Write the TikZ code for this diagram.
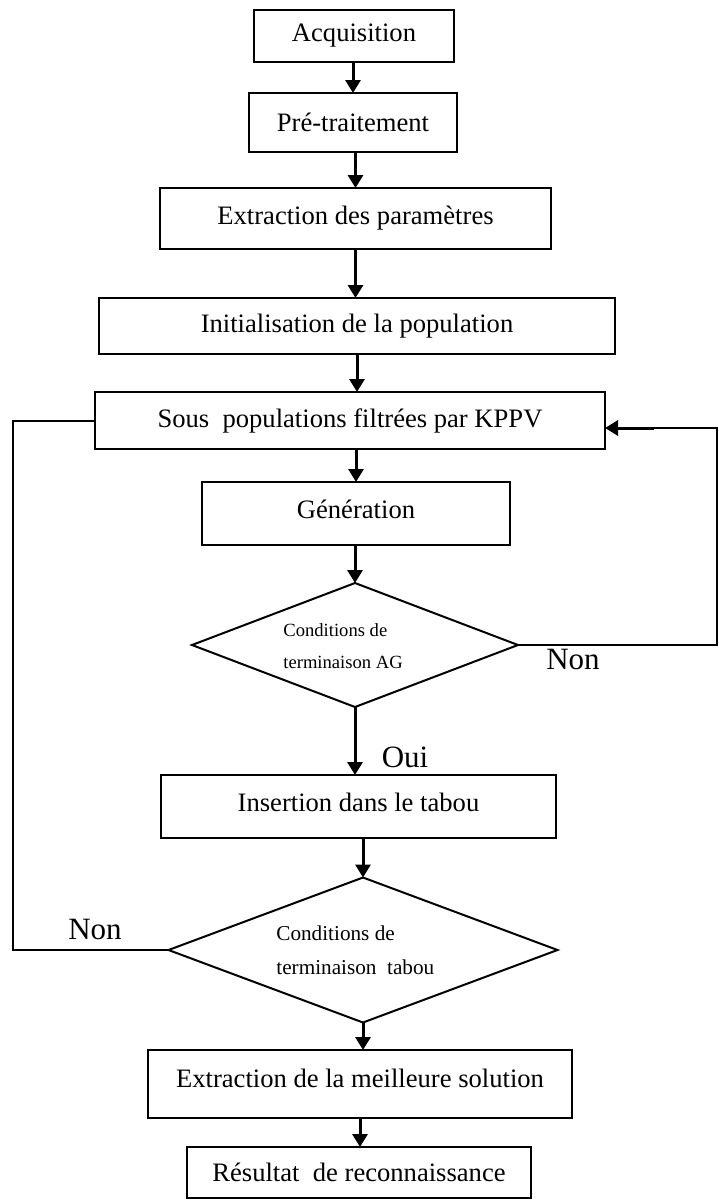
\documentclass[tikz,border=0pt]{standalone}
\usepackage{fontspec}
\setmainfont{Liberation Serif}
\usetikzlibrary{shapes.geometric,arrows.meta}

\begin{document}
\begin{tikzpicture}[x=0.5pt,y=-0.5pt,
  box/.style={draw,line width=1pt,inner sep=0pt,outer sep=0pt,align=center,
    font=\fontsize{13.3}{16}\selectfont},
  cond/.style={draw,diamond,line width=1pt,inner sep=0pt,outer sep=0pt},
  condtxtA/.style={inner sep=0pt,anchor=west,font=\fontsize{9.3}{11}\selectfont},
  condtxtB/.style={inner sep=0pt,anchor=west,font=\fontsize{10.6}{12}\selectfont},
  answer/.style={inner sep=0pt,font=\fontsize{15.5}{18}\selectfont},
  flow/.style={line width=1.5pt,-{Triangle[width=7.5pt,length=6.5pt]}},
  link/.style={line width=1pt}]
\useasboundingbox (0,0) rectangle (718,1200);

% processing steps
\node[box,minimum width=100pt,minimum height=26pt] (acq) at (354,36) {Acquisition};
\node[box,minimum width=104pt,minimum height=29.5pt] (pre) at (353,122.5) {Pré-traitement};
\node[box,minimum width=195.5pt,minimum height=30.5pt] (ext) at (355.5,218.5) {Extraction des paramètres};
\node[box,minimum width=258pt,minimum height=28pt] (init) at (357,326) {Initialisation de la population};
\node[box,minimum width=255pt,minimum height=28.5pt] (sous) at (350,420.5) {Sous~~populations filtrées par KPPV};
\node[box,minimum width=154pt,minimum height=31.5pt,text depth=4pt] (gen) at (356,513.5) {Génération};
\node[cond,minimum width=163pt,minimum height=62pt] (d1) at (355,645) {};
\node[condtxtA] (d1a) at (283,630) {Conditions de};
\node[condtxtA] (d1b) at (283,662) {terminaison AG};
\node[box,minimum width=197.5pt,minimum height=31.5pt,text depth=4pt] (ins) at (358.5,806.5) {Insertion dans le tabou};
\node[cond,minimum width=194.5pt,minimum height=72.5pt] (d2) at (363,950) {};
\node[condtxtB] (d2a) at (276,933) {Conditions de};
\node[condtxtB] (d2b) at (276,967) {terminaison~~tabou};
\node[box,minimum width=212pt,minimum height=34pt,text depth=6pt] (best) at (360,1084) {Extraction de la meilleure solution};
\node[box,minimum width=172pt,minimum height=25.5pt] (res) at (359,1172.5) {Résultat~~de reconnaissance};

% decision labels
\node[answer] (oui) at (405,757) {Oui};
\node[answer] (nonA) at (573,659) {Non};
\node[answer] (nonB) at (95,929) {Non};

% main flow
\draw[flow] (pre.north |- acq.south) -- (pre.north);
\draw[flow] (ext.north |- pre.south) -- (ext.north);
\draw[flow] (ext.south) -- (ext.south |- init.north);
\draw[flow] (init.south) -- (init.south |- sous.north);
\draw[flow] (gen.north |- sous.south) -- (gen.north);
\draw[flow] (d1.north |- gen.south) -- (d1.north);
\draw[flow] (d1.south) -- (d1.south |- ins.north);
\draw[flow] (d2.north |- ins.south) -- (d2.north);
\draw[flow] (d2.south) -- (d2.south |- best.north);
\draw[flow] (best.south) -- (best.south |- res.north);

% loop back from the GA test
\coordinate (r1) at (717,645);
\coordinate (r2) at (717,428);
\coordinate (r3) at (654,428);
\draw[link] (d1.east) -- (r1) -- (r2) -- (r3);
\draw[flow] (r3) -- (sous.east |- r3);

% loop back from the tabu test
\coordinate (l1) at (13,420.5);
\draw[link] (sous.west) -- (l1) -- (l1 |- d2.west) -- (d2.west);
\end{tikzpicture}
\end{document}
